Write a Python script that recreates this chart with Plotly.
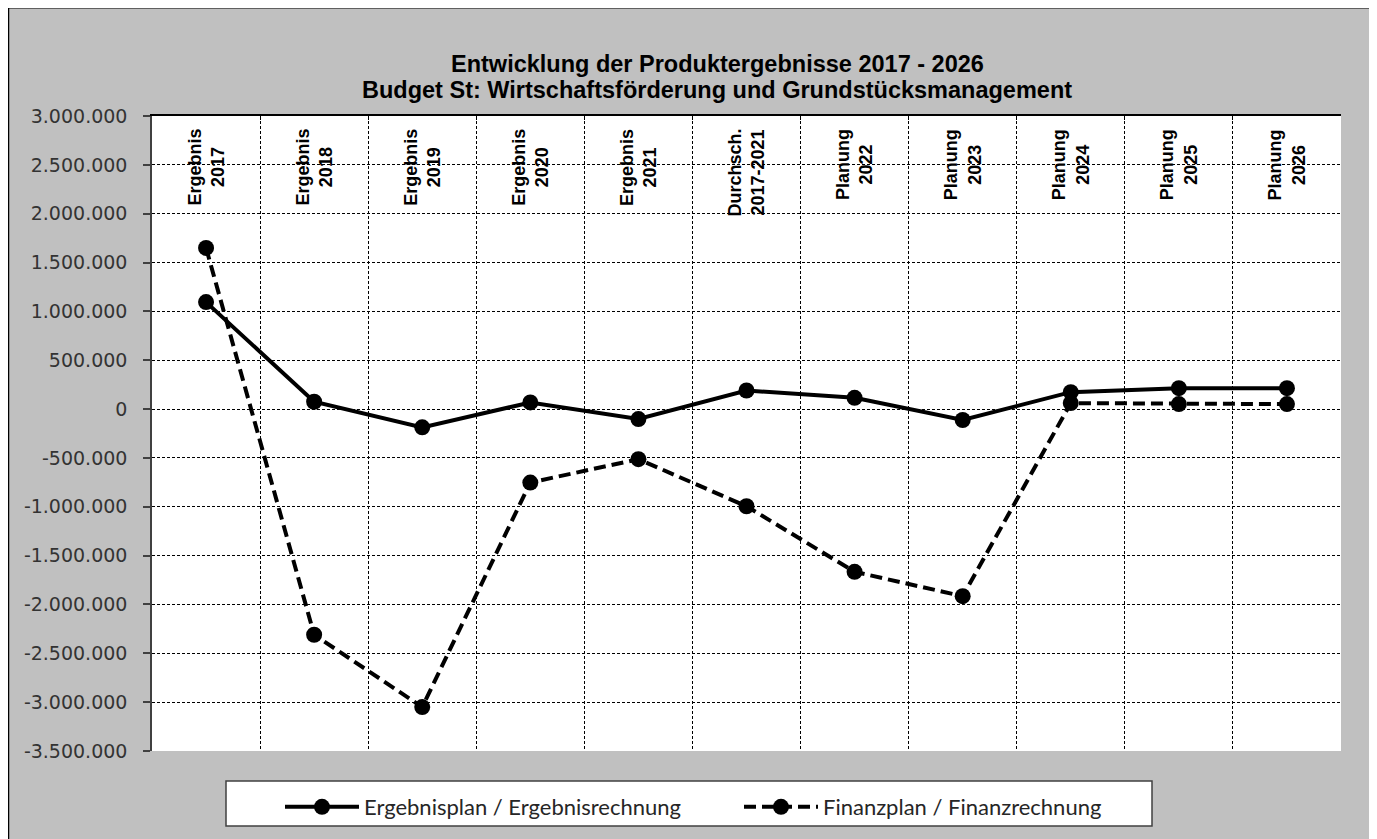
import plotly.graph_objects as go

# ---------------- data ----------------
categories = [
    "Ergebnis\n2017", "Ergebnis\n2018", "Ergebnis\n2019", "Ergebnis\n2020",
    "Ergebnis\n2021", "Durchsch.\n2017-2021", "Planung\n2022", "Planung\n2023",
    "Planung\n2024", "Planung\n2025", "Planung\n2026",
]
ergebnis = [1095000, 75000, -187000, 68000, -102000, 190000,
            115000, -112000, 173000, 214000, 214000]
finanz = [1650000, -2310000, -3050000, -752000, -513000, -995000,
          -1666000, -1915000, 61000, 51000, 51000]
series_names = ["Ergebnisplan / Ergebnisrechnung", "Finanzplan / Finanzrechnung"]
y_tick_values = [3000000, 2500000, 2000000, 1500000, 1000000, 500000, 0,
                 -500000, -1000000, -1500000, -2000000, -2500000, -3000000, -3500000]
y_tick_labels = ["3.000.000", "2.500.000", "2.000.000", "1.500.000", "1.000.000",
                 "500.000", "0", "-500.000", "-1.000.000", "-1.500.000",
                 "-2.000.000", "-2.500.000", "-3.000.000", "-3.500.000"]
title_lines = ["Entwicklung der Produktergebnisse 2017 - 2026",
               "Budget St: Wirtschaftsförderung und Grundstücksmanagement"]

# ---------------- geometry (page pixels; page has an 8px body margin) ----------------
OFF = 8
W, H = 1377 - OFF, 839 - OFF
PL, PR, PT, PB = 152, 1341, 116, 752          # plot area in page pixels
L, T = PL - OFF, PT - OFF
R, B = W - (PR - OFF), H - (PB - OFF)
PW, PH = W - L - R, H - T - B


def px_x(px):
    return (px - OFF - L) / PW


def px_y(py):
    return (H - B - (py - OFF)) / PH


xs = list(range(len(categories)))

fig = go.Figure()
fig.add_trace(go.Scatter(
    x=xs, y=ergebnis, name=series_names[0], mode="lines+markers",
    line=dict(color="black", width=4),
    marker=dict(color="black", size=16, symbol="circle"),
))
fig.add_trace(go.Scatter(
    x=xs, y=finanz, name=series_names[1], mode="lines+markers",
    line=dict(color="black", width=4, dash="12px,6px"),
    marker=dict(color="black", size=16, symbol="circle"),
))

shapes = [
    dict(type="rect", xref="paper", yref="paper",
         x0=px_x(8.5), x1=px_x(1370), y0=px_y(850), y1=px_y(7.5),
         fillcolor="#C0C0C0", line=dict(color="black", width=1.5), layer="below"),
    dict(type="rect", xref="paper", yref="paper", x0=0, x1=1, y0=0, y1=1,
         fillcolor="white", line=dict(width=0), layer="below"),
    dict(type="rect", xref="paper", yref="paper",
         x0=px_x(226), x1=px_x(1152), y0=px_y(827), y1=px_y(782),
         fillcolor="white", line=dict(color="#404040", width=1.5), layer="below"),
]

annotations = []
for i, c in enumerate(categories):
    annotations.append(dict(
        x=xs[i], xref="x", y=px_y(127), yref="paper",
        text=c.replace("\n", "<br>"), textangle=-90,
        xanchor="center", yanchor="top", showarrow=False,
        font=dict(family="Liberation Sans, Arial", size=18, color="black", weight="bold"),
    ))
for line, ypx in zip(title_lines, [64, 90]):
    annotations.append(dict(
        x=px_x(717), xref="paper", y=px_y(ypx), yref="paper", text=line,
        xanchor="center", yanchor="middle", showarrow=False,
        font=dict(family="Liberation Sans, Arial", size=23.5, color="black", weight="bold"),
    ))

fig.update_layout(
    width=W, height=H, autosize=False,
    margin=dict(l=L, r=R, t=T, b=B, pad=0),
    paper_bgcolor="white", plot_bgcolor="white",
    shapes=shapes, annotations=annotations,
    showlegend=True,
    legend=dict(
        orientation="h", x=px_x(280), y=px_y(786), xanchor="left", yanchor="top",
        bgcolor="rgba(0,0,0,0)", borderwidth=0,
        font=dict(family="Lato", size=22, color="#262626"),
        itemwidth=74, entrywidth=370, entrywidthmode="pixels",
    ),
    xaxis=dict(
        range=[-0.5, 10.5], side="top", showline=True, linecolor="black", linewidth=2,
        ticks="inside", ticklen=4, tickcolor="black", tickwidth=1,
        tickvals=[i + 0.5 for i in xs[:-1]], showticklabels=False,
        showgrid=True, gridcolor="black", gridwidth=1, griddash="3px,2px",
        zeroline=False, fixedrange=True,
    ),
    yaxis=dict(
        range=[-3500000, 3000000], tickvals=y_tick_values, ticktext=y_tick_labels,
        showline=True, linecolor="#404040", linewidth=1.5,
        ticks="outside", ticklen=7, tickcolor="#404040", tickwidth=1.5,
        tickfont=dict(family="DejaVu Sans", size=19, color="#333333"),
        ticklabelstandoff=12,
        showgrid=True, gridcolor="black", gridwidth=1, griddash="3px,2px",
        zeroline=False, fixedrange=True,
    ),
)

fig.write_html("out.html")
